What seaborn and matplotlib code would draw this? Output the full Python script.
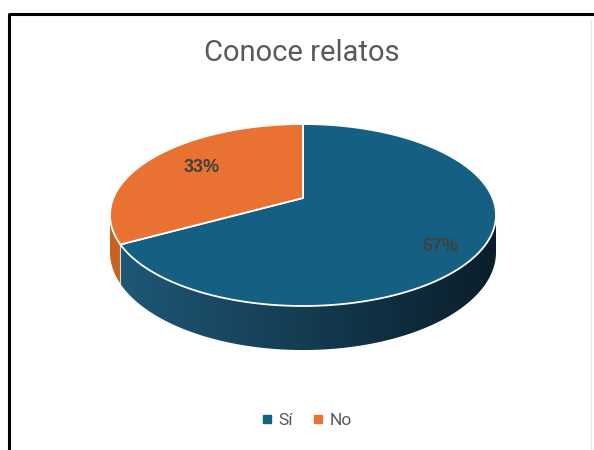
import numpy as np
import matplotlib
matplotlib.use("Agg")
import matplotlib.pyplot as plt
import seaborn as sns
from matplotlib.patches import Polygon
from matplotlib.lines import Line2D
from matplotlib.colors import LinearSegmentedColormap

# data
categories = ["Sí", "No"]
values = [67, 33]
labels = ["67%", "33%"]

top_colors = ["#156082", "#E97132"]
# wall shading: colour at left end, at right end of the visible side
wall_left = ["#1f5978", "#c86420"]
wall_right = ["#0a1e2b", "#8a4215"]

sns.set_theme(style="white")
plt.rcParams["font.family"] = ["Liberation Sans", "DejaVu Sans"]

# geometry of the projected (perspective) pie, pixel coords
cx, cy = 303, 198
A, B, k = 189.6, 87.8, 0.187
depth = 35.8


def proj(theta, r=1.0, z=0.0):
    # theta in degrees, clockwise from 12 o'clock
    t = np.radians(theta)
    x = r * np.sin(t)
    y = r * np.cos(t)
    d = 1 + k * y
    return cx + A * x / d, cy - B * y / d + z / d


fig = plt.figure(figsize=(5.94, 4.5), dpi=100)
ax = fig.add_axes([0, 0, 1, 1])
ax.set_xlim(0, 594)
ax.set_ylim(450, 0)
ax.axis("off")

total = sum(values)
bounds = np.concatenate([[0], np.cumsum(values) / total * 360])

# side walls, visible between the two silhouette angles
th_r = np.degrees(np.arccos(-k))
th_l = 360 - th_r
x_left, _ = proj(th_l)
x_right, _ = proj(th_r)
grad = np.linspace(0, 1, 256).reshape(1, -1)
for i in range(len(values)):
    a0 = max(bounds[i], th_r)
    a1 = min(bounds[i + 1], th_l)
    if a0 >= a1:
        continue
    ts = np.linspace(a0, a1, 200)
    top = [proj(t) for t in ts]
    bot = [proj(t, z=depth) for t in ts[::-1]]
    wall = Polygon(top + bot, closed=True, facecolor="none", edgecolor="none")
    ax.add_patch(wall)
    cmap = LinearSegmentedColormap.from_list("w%d" % i, [wall_left[i], wall_right[i]])
    im = ax.imshow(grad, cmap=cmap, aspect="auto",
                   extent=(x_left, x_right, 420, cy - 10),
                   interpolation="bilinear")
    im.set_clip_path(wall)

# boundary line on wall where slices meet
for b in bounds[1:-1]:
    if th_r < b < th_l:
        x0, y0 = proj(b)
        x1, y1 = proj(b, z=depth)
        ax.plot([x0, x1], [y0, y1], color="white", lw=0.8, alpha=0.7)

ax.set_xlim(0, 594)
ax.set_ylim(450, 0)

# top faces
for i in range(len(values)):
    ts = np.linspace(bounds[i], bounds[i + 1], 200)
    pts = [proj(0, r=0)] + [proj(t) for t in ts]
    ax.add_patch(Polygon(pts, closed=True, facecolor=top_colors[i],
                         edgecolor="white", linewidth=1.3, joinstyle="round"))

# data labels
label_r = [0.78, 0.66]
label_dy = [11, -3]
for i in range(len(values)):
    mid = (bounds[i] + bounds[i + 1]) / 2
    x, y = proj(mid, r=label_r[i])
    ax.text(x, y + label_dy[i], labels[i], ha="center", va="center",
            fontsize=13, fontweight="bold", color="#404040")

# frame around the chart
ax.plot([8.5, 594], [13.5, 13.5], color="black", lw=2.2, solid_capstyle="butt")
ax.plot([9, 9], [13, 450], color="black", lw=2.2, solid_capstyle="butt")
ax.plot([591, 591], [20, 450], color="#e6e6e6", lw=0.8)

fig.text(0.508, 0.882, "Conoce relatos", ha="center", va="center",
         fontsize=21, color="#595959", family=["Roboto", "DejaVu Sans"])

handles = [Line2D([0], [0], marker="s", linestyle="", markersize=6,
                  markerfacecolor=c, markeredgecolor=c) for c in top_colors]
leg = ax.legend(handles, categories, loc="center", bbox_to_anchor=(0.515, 1 - 420 / 450),
                bbox_transform=fig.transFigure, ncol=2, frameon=False,
                handlelength=0.8, handletextpad=0.3, columnspacing=1.0,
                prop={"family": ["Roboto", "DejaVu Sans"], "size": 12.5})
for t in leg.get_texts():
    t.set_color("#595959")

fig.savefig("out.png", dpi=100)
